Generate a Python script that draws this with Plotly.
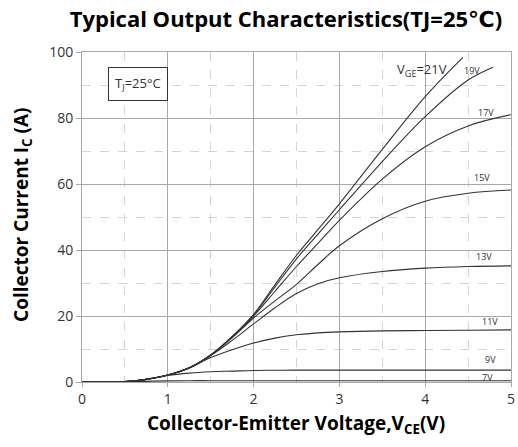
import plotly.graph_objects as go

FONT_FAMILY = "Open Sans, DejaVu Sans, sans-serif"

# Collector-emitter voltage (V)
vce = [0, 0.5, 0.75, 1.0, 1.25, 1.5, 1.75, 2.0, 2.25, 2.5, 2.75, 3.0, 3.5, 4.0, 4.5, 5.0]

# Collector current (A) per gate voltage
ic_7v = [0, 0.05, 0.2, 0.35, 0.4, 0.4, 0.4, 0.4, 0.4, 0.4, 0.4, 0.4, 0.4, 0.4, 0.4, 0.4]
ic_9v = [0, 0.1, 0.8, 2.0, 2.7, 3.1, 3.3, 3.5, 3.55, 3.6, 3.6, 3.6, 3.6, 3.6, 3.6, 3.6]
ic_11v = [0, 0.1, 0.8, 2.1, 4.2, 7.4, 9.8, 11.8, 13.3, 14.3, 14.9, 15.2, 15.5, 15.6, 15.7, 15.8]
ic_13v = [0, 0.1, 0.8, 2.1, 4.3, 8.0, 12.6, 17.6, 22.5, 26.8, 29.8, 31.6, 33.5, 34.5, 35.0, 35.2]
ic_15v = [0, 0.1, 0.8, 2.1, 4.3, 8.1, 13.4, 19.4, 24.6, 29.6, 35.6, 41.3, 49.5, 54.8, 57.2, 58.2]
ic_17v = [0, 0.1, 0.8, 2.1, 4.3, 8.2, 13.6, 20.0, 27.5, 35.0, 42.0, 49.0, 61.5, 71.3, 77.6, 81.0]
ic_19v = [0, 0.1, 0.8, 2.1, 4.3, 8.2, 13.7, 20.3, 28.8, 37.3, 44.8, 52.2, 66.8, 80.4, 91.5]
ic_21v = [0, 0.1, 0.8, 2.1, 4.3, 8.2, 13.8, 20.5, 29.5, 38.4, 46.2, 54.0, 70.5, 86.5]

# End points where the top curves leave the chart
end_19v = (4.79, 95.4)
end_21v = (4.44, 98.4)

series = [
    ("7V", ic_7v, None), ("9V", ic_9v, None), ("11V", ic_11v, None),
    ("13V", ic_13v, None), ("15V", ic_15v, None), ("17V", ic_17v, None),
    ("19V", ic_19v, end_19v), ("21V", ic_21v, end_21v),
]

# Curve labels: (text, x, y)
labels = [
    ("19V", 4.55, 94.3), ("17V", 4.71, 81.6), ("15V", 4.66, 62.0),
    ("13V", 4.69, 37.9), ("11V", 4.76, 18.2), ("9V", 4.76, 6.7), ("7V", 4.73, 1.5),
]

fig = go.Figure()
for name, ic, end in series:
    xs = vce[:len(ic)]
    ys = list(ic)
    if end:
        xs = xs + [end[0]]
        ys = ys + [end[1]]
    fig.add_trace(go.Scatter(
        x=xs, y=ys, mode="lines", name=name,
        line=dict(color="#333333", width=1.1, shape="spline", smoothing=1.0),
        showlegend=False,
    ))

for text, x, y in labels:
    fig.add_annotation(x=x, y=y, text=text, showarrow=False,
                       font=dict(size=9, color="#333333", family=FONT_FAMILY))

fig.add_annotation(x=3.96, y=94.5, text="V<sub>GE</sub>=21V", showarrow=False,
                   font=dict(size=13, color="#333333", family=FONT_FAMILY))

fig.add_annotation(x=0.65, y=90.2, text="T<sub>J</sub>=25°C", showarrow=False,
                   bordercolor="#333333", borderwidth=1, borderpad=6, bgcolor="white",
                   font=dict(size=13, color="#333333", family=FONT_FAMILY))

# Axis titles
fig.add_annotation(xref="paper", yref="paper", x=0.499, y=-0.127,
                   xanchor="center", yanchor="middle",
                   text="<b>Collector-Emitter Voltage,V<sub>CE</sub>(V)</b>",
                   showarrow=False, font=dict(size=19, color="black", family=FONT_FAMILY))
fig.add_annotation(xref="paper", yref="paper", x=-0.14, y=0.506,
                   xanchor="center", yanchor="middle", textangle=-90,
                   text="<b>Collector Current I<sub>C</sub> (A)</b>",
                   showarrow=False, font=dict(size=19, color="black", family=FONT_FAMILY))

fig.update_layout(
    width=518, height=447,
    title=dict(text="<b>Typical Output Characteristics(TJ=25℃)</b>",
               x=0.552, xanchor="center", y=0.957, yanchor="middle",
               font=dict(size=22, color="black", family=FONT_FAMILY)),
    margin=dict(l=82, r=7, t=52, b=65, autoexpand=False),
    plot_bgcolor="white", paper_bgcolor="white",
    font=dict(family=FONT_FAMILY),
)

fig.update_xaxes(
    range=[0, 5], dtick=1, showgrid=True, gridcolor="#a8a8a8", gridwidth=1,
    minor=dict(dtick=0.5, showgrid=True, gridcolor="#d4d4d4", griddash="dash"),
    showline=True, linecolor="#a8a8a8", mirror=True, zeroline=False,
    ticks="outside", ticklen=4, tickcolor="#a8a8a8", automargin=False,
    tickfont=dict(size=14, color="#333333"),
)
fig.update_yaxes(
    range=[0, 100], dtick=20, showgrid=True, gridcolor="#a8a8a8", gridwidth=1,
    minor=dict(dtick=10, showgrid=True, gridcolor="#d4d4d4", griddash="dash"),
    showline=True, linecolor="#a8a8a8", mirror=True, zeroline=False,
    ticks="outside", ticklen=5, tickcolor="#a8a8a8", automargin=False,
    tickfont=dict(size=14, color="#333333"),
)

# Remove the default page margin so the figure sits at the window's top-left corner
fig.write_html("out.html", config={"displayModeBar": False},
               post_script="document.body.style.margin = '0';")
